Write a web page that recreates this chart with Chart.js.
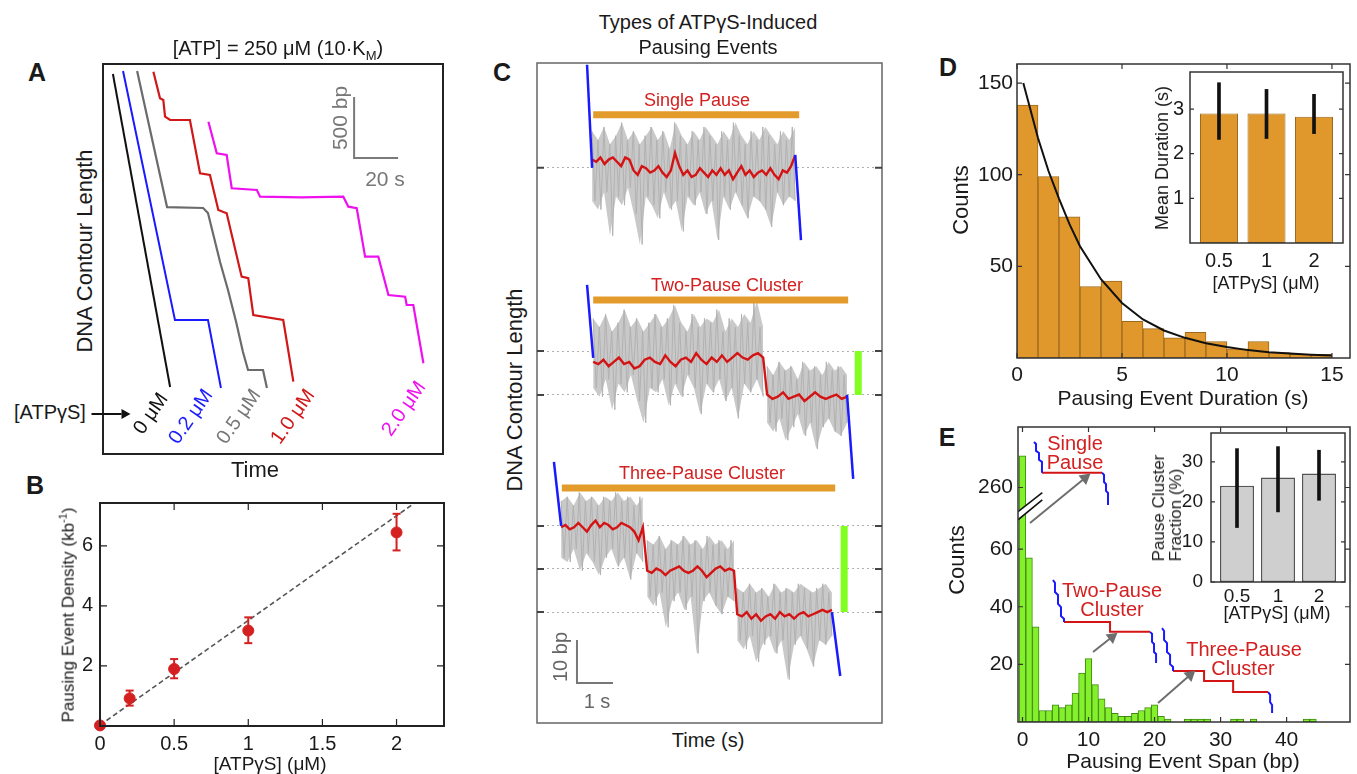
<!DOCTYPE html>
<html>
<head>
<meta charset="utf-8">
<script src="https://cdn.jsdelivr.net/npm/chart.js@4.4.1/dist/chart.umd.min.js"></script>
<style>
  body { margin: 0; width: 1357px; height: 774px; background: #fff; position: relative; overflow: hidden;
         font-family: 'Liberation Sans', Arial, sans-serif; color: #1a1a1a; }
  canvas { position: absolute; }
  .t { position: absolute; white-space: nowrap; line-height: 1; }
</style>
</head>
<body>
<script>
// ---------- panel A: traces (time s, contour length bp) ----------
const a0Time = [4.5, 30.5];
const a0Len = [3116, 549];
const a02Time = [9.1, 32.7, 47.7, 53.6];
const a02Len = [3141, 1099, 1099, 541];
const a05Time = [15.5, 29.1, 45.5, 47.7, 53.2, 56.8, 60.5, 63.6, 65.9, 72.7, 74.5];
const a05Len = [3141, 2025, 2017, 1976, 1574, 1345, 1082, 836, 689, 689, 541];
const a10Time = [22.9, 25.9, 27.4, 28.2, 30.5, 39.5, 44.1, 48.6, 52.4, 56.2, 63.0, 66.0, 68.3, 81.9, 86.5];
const a10Len = [3135, 2917, 2903, 2766, 2739, 2739, 2302, 2288, 2001, 1974, 1454, 1441, 1140, 1099, 593];
const a20Time = [47.9, 51.7, 56.2, 58.5, 69.9, 71.4, 90.0, 109.2, 111.5, 115.3, 119.1, 125.1, 129.7, 137.3, 138.0, 141.0, 145.6];
const a20Len = [2725, 2466, 2452, 2179, 2165, 2110, 2105, 2110, 2028, 2015, 1618, 1618, 1304, 1290, 1222, 1222, 744];
const aBarTime = [114.1, 114.1, 134.1];
const aBarLen = [2927, 2427, 2427];

// ---------- panel B ----------
const bConc = [0, 0.2, 0.5, 1, 2];
const bDensity = [0.02, 0.92, 1.9, 3.18, 6.45];
const bErrLo = [null, 0.68, 1.59, 2.76, 5.85];
const bErrHi = [null, 1.18, 2.23, 3.62, 7.07];
const bFitX = [0, 2.4];
const bFitY = [0.03, 8.4];
const bTicksX = [0, 0.5, 1, 1.5, 2];
const bTicksY = [2, 4, 6];

// ---------- panel C (time s, bp) ----------
const cLevels = [127.6, 85.5, 75.4, 45.3, 35.4, 25.5];
const c1NoiseSpan = [1.53, 7.17];
const c1Noise = [136,120,134,118,137,122,133,112,135,121,138,119,134,123,136,117,133,110,135,121,137,119,134,116,136,122,132,118,138,120,135,113,133,121,136,119,134,122,137,117,135,120,133,111,136,121,134,118,138,122,135,119,133,116,136,121,134,120,137,118,135,114,133,122,136,119,134,121,137,120];
const c1Red = [129.5,129,130,128.5,129.5,130,129,128,130,129.5,127,126,128,127.5,126.5,127,128,126.5,125.5,127,131,128,126,127,125.5,126,127.5,126.5,125.5,127,126,127.5,126,127,125,126.5,128,126,127,125.5,126.5,127,126,127.5,126,125,127,126.5,128,130.5];
const c2aSpan = [1.56, 6.28];
const c2aNoise = [93,77,91,75,94,79,90,72,92,78,95,76,91,80,93,74,90,69,92,77,94,76,91,79,93,73,96,78,92,75,90,80,94,77,91,71,93,78,92,76,95,79,90,74,93,77,91,70,94,78,92,76,97,79,91,75];
const c2aRed = [83,82.5,83.5,82,83,84,82.5,83,81.5,82,83.5,84,83,82.5,84.5,83,82,83.5,84,83,85,83.5,82.5,84,83,84.5,83,84,85,84,83.5,84.5,85,84];
const c2bSpan = [6.39, 8.61];
const c2bNoise = [82,69,80,67,83,70,81,65,82,68,79,71,83,66,81,69,82,63,80,68,83,70,81,67,82,66,80,69];
const c2bRed = [75.5,74.5,75,76,74.5,75,75.5,74,75,76,75,74.5,75,75.5,74.5,75];
const c3aSpan = [0.67, 2.94];
const c3aNoise = [51,38,52,37,50,40,53,35,51,39,52,37,50,34,52,38,51,40,53,36,51,38,52,33,50,39,52,37];
const c3aRed = [45,45.5,44.5,45,46,45,44,45.5,46.5,45,46,45.5,44.5,45,46,45.5,45,44,42,45];
const c3bSpan = [3.06, 5.47];
const c3bNoise = [42,29,41,27,43,30,40,22,42,28,41,30,43,26,41,29,42,16,40,28,43,30,41,27,42,25,40,29,42,28];
const c3bRed = [35,34.5,35.5,35,34,35,35.5,36,35,34.5,35,36,35,33.5,34.5,35.5,36,35,35.5,35];
const c3cSpan = [5.56, 8.19];
const c3cNoise = [31,19,30,17,32,20,30,14,31,18,29,20,32,16,30,19,31,10,30,18,32,20,31,17,30,13,31,19,32,18,30,20];
const c3cRed = [25,24.5,25.5,24,25,23.5,24.5,25,24,25.5,24.5,25,24,25,25.5,24.5,25,25.5,26,25.5,26];
const cBlueX = [[1.39, 1.53], [7.17, 7.33], [1.39, 1.56], [8.61, 8.78], [0.47, 0.67], [8.19, 8.42]];
const cBlueY = [[151.3, 127.6], [130.6, 111.0], [100.7, 83.9], [75.4, 56.1], [60.0, 45.3], [25.5, 10.8]];
const cPauseX = [[1.56, 7.28], [1.56, 8.64], [0.69, 8.28]];
const cPauseY = [139.8, 97.2, 54.0];
const cSpanX = [8.92, 8.53];
const cSpanY = [[85.5, 75.4], [45.3, 25.5]];
const cBarTime = [1.11, 1.11, 2.11];
const cBarLen = [19.1, 9.2, 9.2];

// ---------- panel D ----------
const dBinCenters = [0.5,1.5,2.5,3.5,4.5,5.5,6.5,7.5,8.5,9.5,10.5,11.5,12.5,13.5,14.5];
const dCounts = [138,99,77,39,42,20,16,11,14,9,5,9,3,2,2];
const dFitX = [0.3,1,1.5,2,2.5,3,4,5,6,7,8,9,10,11,12,13,14,15];
const dFitY = [150,120,102,87,73,61,43,30,21,15,11,8,6,4.3,3.2,2.4,1.8,1.4];
const dTicksX = [0, 5, 10, 15];
const dTicksY = [50, 100, 150];
const insetConc = ['0.5', '1', '2'];
const dMean = [2.9, 2.9, 2.83];
const dMeanLo = [2.32, 2.34, 2.45];
const dMeanHi = [3.59, 3.44, 3.33];

// ---------- panel E ----------
const eCounts = [271,57,33,4,4,6,5,6,10,17,22,13,8,5,3,2,2,3,4,5,6,2,1,0,0,1,1,1,1,0,0,0,1,1,0,1,0,0,0,0,0,0,0,1,1,0,0,0,0,0];
const eBreakShift = 178.6;
const eTicksX = [0, 10, 20, 30, 40];
const eTicksY = [20, 40, 60, 81.4];
const eFrac = [24, 26.1, 27.1];
const eFracLo = [13.6, 17.5, 20.4];
const eFracHi = [33.3, 33.8, 32.9];
const eSingleBlue1X = [1.74,2.05,2.05,2.5,2.5,2.95,2.95];
const eSingleBlue1Y = [97.2,96.5,94.1,93.4,91.0,90.3,86.5];
const eSingleRedX = [2.95, 12.05];
const eSingleRedY = [86.5, 86.5];
const eSingleBlue2X = [12.05,12.35,12.35,12.65,12.65,12.95,12.95];
const eSingleBlue2Y = [86.5,85.8,83.3,82.6,80.2,79.5,75.3];
const eTwoBlue1X = [4.62,4.92,4.92,5.38,5.38,5.83,5.83,6.29,6.29];
const eTwoBlue1Y = [49.3,48.3,45.1,44.1,41.0,39.9,36.8,35.8,34.7];
const eTwoRedX = [6.29, 13.26, 13.26, 19.32];
const eTwoRedY = [34.7, 34.7, 31.3, 31.3];
const eTwoBlue2X = [19.32,19.62,19.62,19.92,19.92,20.23,20.23];
const eTwoBlue2Y = [31.3,30.6,27.8,27.1,24.3,23.6,20.5];
const eThreeBlue1X = [21.14,21.44,21.44,21.89,21.89,22.35,22.35,22.8,22.8];
const eThreeBlue1Y = [32.6,31.6,28.5,27.4,24.3,23.3,20.1,19.1,17.7];
const eThreeRedX = [22.8, 27.5, 27.5, 31.9, 31.9, 37.2];
const eThreeRedY = [17.7, 17.7, 14.2, 14.2, 10.4, 10.4];
const eThreeBlue2X = [37.2,37.5,37.5,37.8,37.8];
const eThreeBlue2Y = [10.4,9.4,6.9,5.9,3.1];
const eArrowX = [[1.14, 9.47], [10.68, 13.56], [20.53, 25.38]];
const eArrowY = [[69.1, 84.7], [24.3, 29.5], [6.6, 16.3]];
const eArrowTurn = [51, 52, 49];
const eBreakX = [-0.68, 3.0];
const eBreakUpperY = [73.0, 79.6];
const eBreakLowerY = [70.2, 77.1];
const eBreakGapY = [71.6, 78.4];

// ---------- helpers ----------
const FONT = "'Liberation Sans', Arial, sans-serif";
Chart.defaults.font.family = FONT;
Chart.defaults.color = '#1a1a1a';
Chart.defaults.animation = false;
Chart.defaults.plugins.legend.display = false;
Chart.defaults.plugins.tooltip.enabled = false;
Chart.defaults.elements.point.radius = 0;
Chart.defaults.elements.line.tension = 0;

const framePlugin = {
  id: 'frame',
  beforeDraw(chart, args, o) {
    if (!o.fill) return;
    const a = chart.chartArea, ctx = chart.ctx;
    ctx.save();
    ctx.fillStyle = o.fill;
    ctx.fillRect(a.left, a.top, a.right - a.left, a.bottom - a.top);
    ctx.restore();
  },
  afterDraw(chart, args, o) {
    if (!o.color) return;
    const { ctx, chartArea: a, scales } = chart;
    ctx.save();
    ctx.strokeStyle = o.color;
    ctx.lineWidth = o.width || 1.5;
    ctx.strokeRect(a.left, a.top, a.right - a.left, a.bottom - a.top);
    const len = o.len || 6;
    ctx.lineWidth = o.tickWidth || 1.2;
    ctx.strokeStyle = o.tickColor || o.color;
    ctx.beginPath();
    if (o.xTicks) scales.x.ticks.forEach(t => {
      const p = scales.x.getPixelForValue(t.value);
      ctx.moveTo(p, a.bottom); ctx.lineTo(p, a.bottom - len);
      ctx.moveTo(p, a.top); ctx.lineTo(p, a.top + len);
    });
    if (o.yTicks) scales.y.ticks.forEach(t => {
      const p = scales.y.getPixelForValue(t.value);
      ctx.moveTo(a.left, p); ctx.lineTo(a.left + len, p);
      ctx.moveTo(a.right, p); ctx.lineTo(a.right - len, p);
    });
    ctx.stroke();
    ctx.restore();
  }
};
Chart.register(framePlugin);

function mount(box, pad, wl, hb) {
  const c = document.createElement('canvas');
  c.width = Math.round(box[2] - box[0] + pad[0] + pad[2]);
  c.height = Math.round(box[3] - box[1] + pad[1] + pad[3]);
  c.style.left = (box[0] - pad[0]) + 'px';
  c.style.top = (box[1] - pad[1]) + 'px';
  document.body.appendChild(c);
  return { ctx: c.getContext('2d'), padding: { left: pad[0] - wl, top: pad[1], right: pad[2], bottom: pad[3] - hb } };
}

function pts(xs, ys) { return xs.map((x, i) => ({ x, y: ys[i] })); }
function sampled(span, ys) {
  return ys.map((y, i) => ({ x: span[0] + (span[1] - span[0]) * i / (ys.length - 1), y }));
}
function line(data, color, width, extra) {
  return Object.assign({ type: 'line', data, borderColor: color, borderWidth: width, pointRadius: 0, fill: false }, extra || {});
}
function axis(pos, min, max, ticks, pad, size, fit, extra) {
  return Object.assign({
    type: 'linear', position: pos, min, max, offset: false,
    afterBuildTicks: s => { s.ticks = ticks.map(v => ({ value: v })); },
    afterFit: s => { if (pos === 'left') s.width = fit; else s.height = fit; },
    grid: { display: false, drawTicks: false }, border: { display: false },
    ticks: { padding: pad, font: { size }, color: '#1a1a1a', maxRotation: 0, autoSkip: false, callback: v => String(v) }
  }, extra || {});
}
function hidden(min, max) { return { type: 'linear', display: false, min, max }; }

function label(html, x, y, size, opts) {
  opts = opts || {};
  const d = document.createElement('div');
  d.className = 't';
  d.innerHTML = html;
  d.style.left = x + 'px';
  d.style.top = y + 'px';
  d.style.fontSize = size + 'px';
  if (opts.color) d.style.color = opts.color;
  if (opts.bold) d.style.fontWeight = 'bold';
  d.style.transform = 'translate(-50%,-50%)' + (opts.rot ? ' rotate(' + opts.rot + 'deg)' : '');
  document.body.appendChild(d);
}

// ---------- A ----------
(function () {
  const m = mount([103, 64, 443, 454], [4, 4, 4, 4], 0, 0);
  new Chart(m.ctx, {
    type: 'line',
    data: { datasets: [
      line(pts(a0Time, a0Len), '#111', 2),
      line(pts(a02Time, a02Len), '#1a1aff', 2),
      line(pts(a05Time, a05Len), '#6b6b6b', 2.2),
      line(pts(a10Time, a10Len), '#d01818', 2.2),
      line(pts(a20Time, a20Len), '#ee10ee', 2.2),
      line(pts(aBarTime, aBarLen), '#7a7a7a', 2)
    ] },
    options: {
      responsive: false, layout: { padding: m.padding },
      scales: { x: hidden(0, 154.5), y: hidden(0, 3198) },
      plugins: { frame: { color: '#222', width: 2 } }
    }
  });
})();

// ---------- B ----------
(function () {
  const m = mount([100, 503, 444, 726], [50, 25, 25, 36], 40, 30);
  const err = [];
  bConc.forEach((c, i) => {
    if (bErrLo[i] === null) return;
    err.push({ x: c, y: bErrLo[i] }, { x: c, y: bErrHi[i] }, { x: c, y: null });
  });
  new Chart(m.ctx, {
    type: 'scatter',
    data: { datasets: [
      { data: pts(bConc, bDensity), showLine: false, pointRadius: 5.5, pointBackgroundColor: '#d42020', pointBorderColor: '#d42020', clip: false },
      { data: err, showLine: true, spanGaps: false, borderColor: '#d42020', borderWidth: 2, pointStyle: 'line', pointRadius: 4, pointBorderWidth: 2, pointBorderColor: '#d42020' },
      { data: pts(bFitX, bFitY), showLine: true, borderColor: '#555', borderWidth: 1.6, borderDash: [5, 3], pointRadius: 0 }
    ] },
    options: {
      responsive: false, layout: { padding: m.padding },
      scales: {
        x: axis('bottom', 0, 2.32, bTicksX, 6, 20, 30),
        y: axis('left', 0, 7.43, bTicksY, 7, 20, 40)
      },
      plugins: { frame: { color: '#222', width: 2, xTicks: true, yTicks: true, len: 7 } }
    }
  });
})();

// ---------- C ----------
(function () {
  const m = mount([537, 63, 882, 723], [4, 4, 4, 4], 0, 0);
  const gray = '#b2b2b2', red = '#d41414', blue = '#1a1aff';
  const ds = [];
  ds.push(line(pts(cBarTime, cBarLen), '#777', 2));
  cPauseX.forEach((xs, i) => ds.push(line(pts(xs, [cPauseY[i], cPauseY[i]]), '#e39b2c', 7, { borderCapStyle: 'butt' })));
  cSpanX.forEach((x, i) => ds.push(line(pts([x, x], cSpanY[i]), '#80ff20', 7, { borderCapStyle: 'butt' })));
  cBlueX.forEach((xs, i) => ds.push(line(pts(xs, cBlueY[i]), blue, 2.5)));
  ds.push(line(sampled(c1NoiseSpan, c1Red), red, 2.4));
  ds.push(line(sampled(c2aSpan, c2aRed).concat(sampled(c2bSpan, c2bRed)), red, 2.4));
  ds.push(line(sampled(c3aSpan, c3aRed).concat(sampled(c3bSpan, c3bRed), sampled(c3cSpan, c3cRed)), red, 2.4));
  // raw trace drawn as a zigzag, with the band between its highs and lows shaded
  [[c1NoiseSpan, c1Noise], [c2aSpan, c2aNoise], [c2bSpan, c2bNoise], [c3aSpan, c3aNoise], [c3bSpan, c3bNoise], [c3cSpan, c3cNoise]]
    .forEach(([s, v]) => {
      const highs = v.filter((_, i) => i % 2 === 0);
      const lows = v.filter((_, i) => i % 2 === 1);
      ds.push(line(sampled(s, v), gray, 1));
      ds.push(line(sampled(s, highs), 'rgba(0,0,0,0)', 0, { fill: '+1', backgroundColor: '#c9c9c9' }));
      ds.push(line(sampled(s, lows), 'rgba(0,0,0,0)', 0));
    });
  new Chart(m.ctx, {
    type: 'line',
    data: { datasets: ds },
    options: {
      responsive: false, layout: { padding: m.padding },
      scales: {
        x: hidden(0, 9.58),
        y: {
          type: 'linear', min: 0, max: 151.7,
          afterBuildTicks: s => { s.ticks = cLevels.map(v => ({ value: v })); },
          afterFit: s => { s.width = 0; },
          ticks: { display: false },
          grid: { color: '#b0b0b0', lineWidth: 1, drawTicks: false, borderDash: [2, 3] },
          border: { display: false, dash: [2, 3] }
        }
      },
      plugins: { frame: { color: '#666', width: 1.5, yTicks: true, len: 7, tickColor: '#444', tickWidth: 2 } }
    }
  });
})();

// ---------- D ----------
(function () {
  const m = mount([1017, 64, 1350, 357.5], [47, 25, 25, 37], 40, 30);
  new Chart(m.ctx, {
    type: 'bar',
    data: { datasets: [
      line(pts(dFitX, dFitY), '#111', 2),
      { type: 'bar', data: pts(dBinCenters, dCounts), backgroundColor: '#e0972b', borderColor: '#9c6a1e', borderWidth: 1, borderSkipped: false, barPercentage: 1, categoryPercentage: 1 }
    ] },
    options: {
      responsive: false, layout: { padding: m.padding },
      scales: {
        x: axis('bottom', 0, 15.86, dTicksX, 5, 21, 30),
        y: axis('left', 0, 160.4, dTicksY, 4, 21, 40)
      },
      plugins: { frame: { color: '#333', width: 1.5, xTicks: true, yTicks: true, len: 5 } }
    }
  });
})();

// D inset
(function () {
  const m = mount([1190, 72, 1343, 243], [36, 25, 20, 32], 30, 30);
  const xs = [0, 1, 2];
  new Chart(m.ctx, {
    type: 'bar',
    data: { datasets: [
      { data: xs.map((x, i) => ({ x, y: [dMeanLo[i], dMeanHi[i]] })), backgroundColor: '#111', barThickness: 3, grouped: false },
      { data: pts(xs, dMean), backgroundColor: '#e0972b', borderColor: '#9c6a1e', borderWidth: 1, borderSkipped: false, barPercentage: 0.8, categoryPercentage: 1, grouped: false }
    ] },
    options: {
      responsive: false, layout: { padding: m.padding },
      scales: {
        x: axis('bottom', -0.61, 2.61, xs, 7, 20, 30, { ticks: { padding: 6, font: { size: 20 }, color: '#1a1a1a', maxRotation: 0, autoSkip: false, callback: v => insetConc[v] } }),
        y: axis('left', 0, 3.83, [1, 2, 3], 6, 20, 30)
      },
      plugins: { frame: { fill: '#fff', color: '#333', width: 1.5, yTicks: true, len: 4 } }
    }
  });
})();

// ---------- E ----------
(function () {
  const m = mount([1018, 427, 1350, 722], [48, 25, 25, 38], 40, 30);
  const shown = v => (v > 70 ? v - eBreakShift : v);
  const red = '#d41414', blue = '#1a1aff';
  const ds = [];
  eArrowX.forEach((xs, i) => ds.push(line(pts(xs, eArrowY[i]), '#6e6e6e', 2, {
    pointStyle: 'triangle', pointRadius: [0, 5], pointRotation: eArrowTurn[i],
    pointBackgroundColor: '#6e6e6e', pointBorderColor: '#6e6e6e', clip: false
  })));
  ds.push(line(pts(eSingleBlue1X, eSingleBlue1Y), blue, 2));
  ds.push(line(pts(eSingleRedX, eSingleRedY), red, 2));
  ds.push(line(pts(eSingleBlue2X, eSingleBlue2Y), blue, 2));
  ds.push(line(pts(eTwoBlue1X, eTwoBlue1Y), blue, 2));
  ds.push(line(pts(eTwoRedX, eTwoRedY), red, 2));
  ds.push(line(pts(eTwoBlue2X, eTwoBlue2Y), blue, 2));
  ds.push(line(pts(eThreeBlue1X, eThreeBlue1Y), blue, 2));
  ds.push(line(pts(eThreeRedX, eThreeRedY), red, 2));
  ds.push(line(pts(eThreeBlue2X, eThreeBlue2Y), blue, 2));
  ds.push(line(pts(eBreakX, eBreakUpperY), '#111', 1.6));
  ds.push(line(pts(eBreakX, eBreakLowerY), '#111', 1.6));
  ds.push(line(pts(eBreakX, eBreakGapY), '#fff', 6));
  ds.push({
    type: 'bar', data: eCounts.map((v, i) => ({ x: i, y: v > 0 ? shown(v) : null })),
    backgroundColor: '#84f02c', borderColor: '#3f8a12', borderWidth: 1, borderSkipped: false,
    barPercentage: 1, categoryPercentage: 1
  });
  new Chart(m.ctx, {
    type: 'bar',
    data: { datasets: ds },
    options: {
      responsive: false, layout: { padding: m.padding },
      scales: {
        x: axis('bottom', -0.68, 49.6, eTicksX, 6, 21, 30),
        y: axis('left', 0, 102.4, eTicksY, 5, 21, 40, { ticks: { padding: 5, font: { size: 21 }, color: '#1a1a1a', autoSkip: false, callback: v => (v > 70 ? '260' : String(v)) } })
      },
      plugins: { frame: { color: '#333', width: 1.5, xTicks: true, yTicks: true, len: 5 } }
    }
  });
})();

// E inset
(function () {
  const m = mount([1211, 433, 1345, 582], [40, 25, 20, 26], 34, 25);
  const xs = [0, 1, 2];
  new Chart(m.ctx, {
    type: 'bar',
    data: { datasets: [
      { data: xs.map((x, i) => ({ x, y: [eFracLo[i], eFracHi[i]] })), backgroundColor: '#111', barThickness: 3, grouped: false },
      { data: pts(xs, eFrac), backgroundColor: '#cfcfcf', borderColor: '#555', borderWidth: 1.5, borderSkipped: false, barPercentage: 0.83, categoryPercentage: 1, grouped: false }
    ] },
    options: {
      responsive: false, layout: { padding: m.padding },
      scales: {
        x: axis('bottom', -0.634, 2.634, xs, 3, 19, 25, { ticks: { padding: 3, font: { size: 19 }, color: '#1a1a1a', maxRotation: 0, autoSkip: false, callback: v => insetConc[v] } }),
        y: axis('left', 0, 37.2, [0, 10, 20, 30], 8, 19, 34)
      },
      plugins: { frame: { fill: '#fff', color: '#333', width: 1.5, yTicks: true, len: 4 } }
    }
  });
})();

// ---------- text ----------
const RED = '#d42020';
label('A', 37, 72, 25, { bold: true });
label('B', 35, 485, 25, { bold: true });
label('C', 502, 72, 25, { bold: true });
label('D', 948, 67, 25, { bold: true });
label('E', 947, 437, 25, { bold: true });

label('[ATP] = 250 &mu;M (10&middot;K<sub style="font-size:13px">M</sub>)', 278, 50, 20);
label('DNA Contour Length', 85, 251, 22, { rot: -90 });
label('Time', 255, 470, 22);
label('500 bp', 339, 118, 21, { rot: -90, color: '#777' });
label('20 s', 385, 178, 21, { color: '#777' });
label('[ATP&gamma;S]', 50, 412, 20);
label('0 &mu;M', 150, 413, 20, { rot: -55, color: '#111' });
label('0.2 &mu;M', 190, 416, 20, { rot: -55, color: '#1a1aff' });
label('0.5 &mu;M', 238, 416, 20, { rot: -55, color: '#777' });
label('1.0 &mu;M', 292, 416, 20, { rot: -55, color: '#d01818' });
label('2.0 &mu;M', 403, 408, 20, { rot: -55, color: '#ee10ee' });
label('<span style="display:inline-block;width:30px;height:2px;background:#111;vertical-align:middle"></span><span style="display:inline-block;width:0;height:0;border-left:9px solid #111;border-top:5px solid transparent;border-bottom:5px solid transparent;vertical-align:middle"></span>', 111, 412, 20);

label('Pausing Event Density (kb<sup style="font-size:11px">-1</sup>)', 67, 615, 17, { rot: -90 });
label('[ATP&gamma;S] (&mu;M)', 270, 763, 19);

label('Types of ATP&gamma;S-Induced', 708, 22, 20);
label('Pausing Events', 708, 47, 20);
label('DNA Contour Length', 515, 390, 22, { rot: -90 });
label('Time (s)', 708, 740, 20);
label('Single Pause', 697, 100, 18, { color: RED });
label('Two-Pause Cluster', 727, 285, 18, { color: RED });
label('Three-Pause Cluster', 702, 473, 18, { color: RED });
label('10 bp', 560, 657, 20, { rot: -90, color: '#666' });
label('1 s', 597, 701, 20, { color: '#666' });

label('Counts', 961, 200, 22, { rot: -90 });
label('Pausing Event Duration (s)', 1183, 397, 21);
label('Mean Duration (s)', 1162, 158, 18, { rot: -90 });
label('[ATP&gamma;S] (&mu;M)', 1266, 283, 18);

label('Counts', 957, 560, 22, { rot: -90 });
label('Pausing Event Span (bp)', 1183, 760, 21);
label('Pause Cluster<br>Fraction (%)', 1167, 508, 17, { rot: -90 });
label('[ATP&gamma;S] (&mu;M)', 1277, 613, 18);
label('Single', 1075, 443, 20, { color: RED });
label('Pause', 1075, 462, 20, { color: RED });
label('Two-Pause', 1112, 590, 20, { color: RED });
label('Cluster', 1112, 609, 20, { color: RED });
label('Three-Pause', 1244, 649, 20, { color: RED });
label('Cluster', 1243, 668, 20, { color: RED });
</script>
</body>
</html>
